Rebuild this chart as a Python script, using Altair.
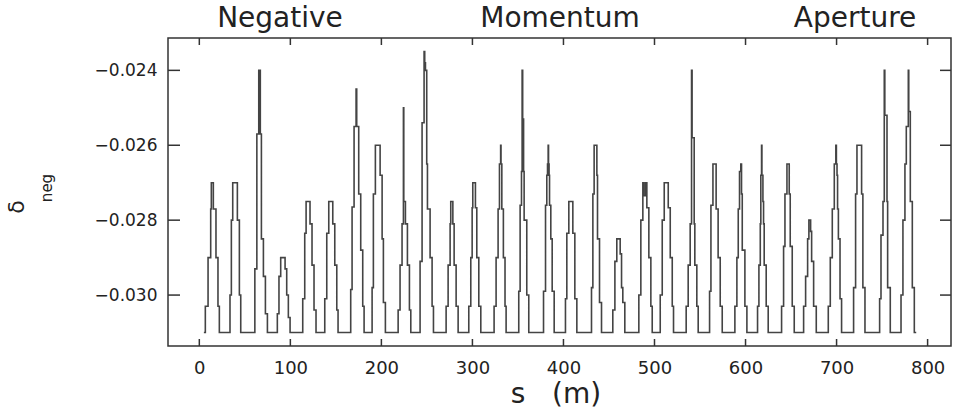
import altair as alt
import pandas as pd

# Step-line vertices (s in metres, delta_neg), read peak by peak from the reference
S_POS = [
    5.0,
    6.6, 9.6, 12.5, 13.2, 15.4, 18.3, 20.5, 22.0,
    33.7, 35.2, 36.7, 41.8, 44.0, 45.5,
    61.0, 63.2, 65.3, 67.0, 68.2, 70.4, 72.6, 74.8,
    85.7, 87.5, 89.4, 94.2, 96.0, 97.8, 99.7,
    113.6, 115.8, 117.3, 121.6, 123.8, 126.0, 128.2,
    137.8, 140.0, 142.2, 146.6, 148.8, 151.0, 152.4,
    166.3, 167.8, 170.0, 172.2, 172.9, 175.1, 177.3, 179.5, 181.0,
    189.8, 191.2, 193.4, 198.6, 200.8, 202.2, 204.4,
    218.4, 220.5, 222.7, 224.2, 224.6, 226.4, 228.6, 230.8, 232.3,
    242.5, 244.7, 246.9, 247.6, 248.4, 249.8, 250.6, 253.5, 255.7, 257.2,
    271.1, 273.3, 275.5, 276.2, 278.5, 279.9, 282.1, 284.3,
    296.0, 298.2, 299.7, 300.4, 303.3, 304.8, 307.0, 309.2,
    323.8, 326.0, 328.2, 329.7, 331.0, 331.4, 332.3, 334.0, 335.8, 337.0,
    350.9, 352.4, 353.9, 354.6, 355.2, 356.2, 356.8, 359.7, 361.9,
    378.1, 380.3, 381.7, 382.5, 383.2, 383.6, 384.2, 384.7, 386.1, 387.6, 389.8,
    402.2, 403.7, 405.9, 410.3, 412.5, 414.7,
    430.8, 432.3, 433.7, 436.7, 437.4, 439.6, 441.8,
    454.2, 456.5, 458.6, 462.3, 463.8, 465.2, 467.4,
    482.8, 485.0, 487.2, 488.2, 490.0, 491.6, 493.8, 496.0, 497.5,
    506.3, 508.5, 510.7, 515.1, 517.3, 519.5, 520.9,
    534.8, 537.0, 539.2, 540.7, 541.3, 543.6, 544.3, 546.5, 548.0,
    560.5, 562.0, 564.2, 567.7, 569.9, 572.2, 574.4,
    588.3, 590.5, 592.0, 593.4, 594.8, 595.6, 596.4, 599.3, 601.5,
    613.2, 614.7, 616.2, 616.8, 617.6, 618.0, 619.1, 619.8, 620.5, 622.7, 624.9,
    639.6, 641.8, 643.3, 645.5, 648.0, 649.1, 651.3, 653.5,
    663.8, 666.0, 668.2, 669.6, 671.5, 672.6, 674.8, 677.7,
    690.9, 693.1, 695.3, 697.5, 699.2, 699.8, 700.5, 701.1, 702.0, 703.8, 705.5,
    718.7, 720.9, 722.4, 727.5, 728.9, 731.2,
    747.3, 748.8, 751.0, 752.4, 753.0, 755.4, 756.1, 759.0,
    770.8, 772.9, 775.1, 776.6, 778.8, 779.3, 781.0, 783.2, 785.4,
    787.5,
]
DELTA_NEG = [
    -0.0310,
    -0.0303, -0.0290, -0.0277, -0.0270, -0.0277, -0.0290, -0.0303, -0.0310,
    -0.0300, -0.0280, -0.0270, -0.0280, -0.0300, -0.0310,
    -0.0293, -0.0257, -0.0240, -0.0257, -0.0285, -0.0295, -0.0305, -0.0310,
    -0.0305, -0.0295, -0.0290, -0.0293, -0.0300, -0.0306, -0.0310,
    -0.0301, -0.02835, -0.0275, -0.0281, -0.0292, -0.0304, -0.0310,
    -0.0301, -0.02835, -0.0275, -0.0281, -0.0292, -0.0304, -0.0310,
    -0.02985, -0.02765, -0.0255, -0.0245, -0.0255, -0.0273, -0.0288, -0.0303, -0.0310,
    -0.0298, -0.0273, -0.0260, -0.0268, -0.0285, -0.0302, -0.0310,
    -0.0304, -0.0292, -0.0281, -0.0250, -0.0275, -0.0281, -0.0292, -0.0304, -0.0310,
    -0.0291, -0.0254, -0.0235, -0.0238, -0.0240, -0.0265, -0.0277, -0.0290, -0.0303, -0.0310,
    -0.0303, -0.0292, -0.0281, -0.0275, -0.0281, -0.0292, -0.0303, -0.0310,
    -0.0303, -0.0290, -0.02767, -0.0270, -0.02767, -0.0290, -0.0303, -0.0310,
    -0.0303, -0.0290, -0.0277, -0.0265, -0.0260, -0.0265, -0.0277, -0.0290, -0.0303, -0.0310,
    -0.0299, -0.0276, -0.0267, -0.0240, -0.0253, -0.0267, -0.0280, -0.0300, -0.0310,
    -0.0299, -0.0276, -0.0268, -0.0265, -0.0260, -0.0265, -0.0268, -0.0276, -0.0285, -0.0299, -0.0310,
    -0.0301, -0.02835, -0.0275, -0.02835, -0.0301, -0.0310,
    -0.0298, -0.0273, -0.0260, -0.0268, -0.0285, -0.0302, -0.0310,
    -0.0304, -0.0291, -0.0285, -0.0289, -0.0298, -0.0302, -0.0310,
    -0.0300, -0.0280, -0.0270, -0.02735, -0.0270, -0.02767, -0.0290, -0.0303, -0.0310,
    -0.0300, -0.0280, -0.0270, -0.02767, -0.0290, -0.0303, -0.0310,
    -0.0303, -0.0292, -0.0281, -0.0240, -0.0258, -0.0281, -0.0292, -0.0303, -0.0310,
    -0.0299, -0.0276, -0.0265, -0.0277, -0.0290, -0.0303, -0.0310,
    -0.0303, -0.0290, -0.0277, -0.0267, -0.0265, -0.0273, -0.0288, -0.0303, -0.0310,
    -0.0303, -0.0292, -0.0281, -0.0268, -0.0260, -0.0268, -0.0275, -0.0281, -0.0292, -0.0303, -0.0310,
    -0.0303, -0.0287, -0.0273, -0.0265, -0.0273, -0.0287, -0.0303, -0.0310,
    -0.0303, -0.0295, -0.0285, -0.0280, -0.0283, -0.0291, -0.0303, -0.0310,
    -0.0303, -0.0290, -0.0277, -0.0265, -0.0260, -0.0265, -0.0268, -0.0277, -0.0285, -0.0301, -0.0310,
    -0.0298, -0.0273, -0.0260, -0.0273, -0.0298, -0.0310,
    -0.0301, -0.0284, -0.0275, -0.0240, -0.0252, -0.0275, -0.0298, -0.0310,
    -0.0300, -0.0280, -0.0265, -0.0255, -0.0240, -0.0251, -0.0275, -0.0298, -0.0310,
    -0.0310,
]

X_TICKS = [0, 100, 200, 300, 400, 500, 600, 700, 800]
Y_TICKS = [-0.030, -0.028, -0.026, -0.024]
TITLE_WORDS = ["Negative", "Momentum", "Aperture"]
X_TITLE = "s\u00a0\u00a0\u00a0(m)"
Y_TITLE_MAIN = "\u03b4"
Y_TITLE_SUB = "neg"

W, H = 783, 308
FONT = "DejaVu Sans"
INK = "#222222"

xs = alt.Scale(domain=[-34.4, 825.7], nice=False, zero=False)
ys = alt.Scale(domain=[-0.03136, -0.023136], nice=False, zero=False)
x_axis = alt.Axis(
    values=X_TICKS, ticks=False, domain=False, grid=False, title=None,
    labelFont=FONT, labelFontSize=18, labelColor=INK, labelPadding=13,
    labelFlush=False)
y_axis = alt.Axis(
    values=Y_TICKS, ticks=False, domain=False, grid=False, title=None,
    format=".3f", labelFont=FONT, labelFontSize=17, labelColor=INK,
    labelPadding=11)

df = pd.DataFrame({"s": S_POS, "d": DELTA_NEG})
line = alt.Chart(df).mark_line(
    interpolate="step-after", color="#444444", strokeWidth=1.6
).encode(
    x=alt.X("s:Q", scale=xs, axis=x_axis),
    y=alt.Y("d:Q", scale=ys, axis=y_axis),
)

xt = pd.DataFrame({"s": X_TICKS})
yt = pd.DataFrame({"d": Y_TICKS})
tick_style = dict(color="#333333", strokeWidth=1.5)
xtick_bot = alt.Chart(xt).mark_rule(**tick_style).encode(
    x=alt.X("s:Q", scale=xs, axis=x_axis), y=alt.value(H), y2=alt.value(H - 7))
xtick_top = alt.Chart(xt).mark_rule(**tick_style).encode(
    x=alt.X("s:Q", scale=xs, axis=x_axis), y=alt.value(0), y2=alt.value(7))
ytick_left = alt.Chart(yt).mark_rule(**tick_style).encode(
    y=alt.Y("d:Q", scale=ys, axis=y_axis), x=alt.value(0), x2=alt.value(12))
ytick_right = alt.Chart(yt).mark_rule(**tick_style).encode(
    y=alt.Y("d:Q", scale=ys, axis=y_axis), x=alt.value(W - 11), x2=alt.value(W))

def label(text, x, y, size, angle=0, baseline="middle"):
    return alt.Chart(pd.DataFrame({"t": [text]})).mark_text(
        font=FONT, fontSize=size, color=INK, align="center",
        baseline=baseline, angle=angle
    ).encode(text="t:N", x=alt.value(x), y=alt.value(y))

title_layers = [
    label(TITLE_WORDS[0], 112, -11, 28, baseline="alphabetic"),
    label(TITLE_WORDS[1], 392, -11, 28, baseline="alphabetic"),
    label(TITLE_WORDS[2], 687, -11, 28, baseline="alphabetic"),
]
xtitle = label(X_TITLE, 388, 357, 28)
ytitle_main = label(Y_TITLE_MAIN, -151, 169, 22, angle=270)
ytitle_sub = label(Y_TITLE_SUB, -121, 150, 15, angle=270)

chart = alt.layer(
    line, xtick_bot, xtick_top, ytick_left, ytick_right,
    *title_layers, xtitle, ytitle_main, ytitle_sub
).properties(
    width=W, height=H,
    autosize=alt.AutoSizeParams(type="none"),
    padding={"left": 168, "top": 38, "right": 968 - 168 - W, "bottom": 412 - 38 - H},
    background="white",
).configure_view(stroke="#333333", strokeWidth=1.5)

chart.save("out.html", embed_options={"renderer": "svg", "actions": False})
